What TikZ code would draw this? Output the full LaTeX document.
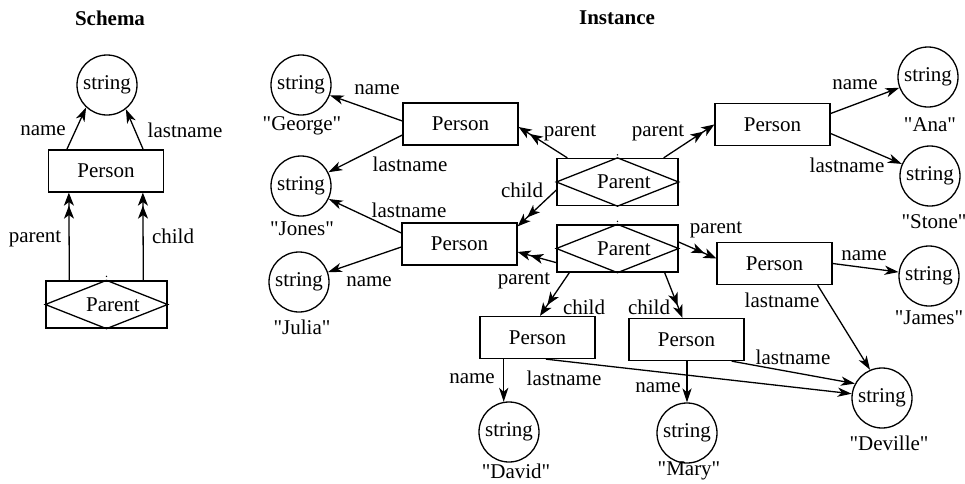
\documentclass[tikz,border=0pt]{standalone}
\usepackage{fontspec}
\setmainfont{Liberation Serif}[Ligatures=TeXOff]
\usetikzlibrary{arrows.meta,calc}
\begin{document}
\begin{tikzpicture}[x=0.5pt,y=-0.5pt,
  font=\fontsize{10.5}{12}\selectfont, line width=0.65pt,
  strn/.style={circle,draw,minimum size=30pt,inner sep=0pt},
  pbox/.style={rectangle,draw,minimum width=57.5pt,minimum height=21pt,inner sep=0pt},
  rbox/.style={rectangle,draw,minimum width=60.5pt,minimum height=23.5pt,inner sep=0pt},
  lbl/.style={inner sep=0pt},
  ttl/.style={inner sep=0pt,font=\fontsize{10.5}{12}\selectfont\bfseries},
  sarr/.style={-{Stealth[length=7pt,width=4.6pt,inset=2pt]}},
  darr/.style={-{Stealth[length=6.5pt,width=5pt,inset=1.8pt]Stealth[length=6.5pt,width=5pt,inset=1.8pt]}},
  dot/.style={circle,fill,inner sep=0pt,minimum size=0.8pt}
]
\useasboundingbox (0,0) rectangle (965,483);

% ---------------- Schema ----------------
\node[ttl] (tS) at (110,18) {Schema};
\node[strn] (strS) at (107,85) {string};
\node[pbox] (personS) at (106,171) {Person};
\node[rbox] (parS) at (106.5,304.5) {\hspace*{6.5pt}Parent};
\draw (parS.west) -- (parS.north) -- (parS.east) -- (parS.south) -- cycle;
\node[dot] (dS) at ($(parS.north)+(0,-4)$) {};

\draw[sarr] ($(personS.north west)+(19,0)$) -- (strS.227);
\draw[sarr] ($(personS.north east)+(-21,0)$) -- (strS.308);
\draw[darr] ($(parS.north west)+(24,0)$) -- ($(personS.south west)+(21,0)$);
\draw[darr] ($(parS.north west)+(98,0)$) -- ($(personS.south west)+(95,0)$);

\node[lbl] (lS1) at (43,131) {name};
\node[lbl] (lS2) at (185,130) {lastname};
\node[lbl] (lS3) at (35,239) {parent};
\node[lbl] (lS4) at (173,236) {child};

% ---------------- Instance ----------------
\node[ttl] (tI) at (617,18) {Instance};

\node[strn] (george) at (301,85) {string};
\node[strn] (jones) at (301,186) {string};
\node[strn] (julia) at (299,282) {string};
\node[strn] (ana) at (928,77) {string};
\node[strn] (stone) at (930,176) {string};
\node[strn] (james) at (929,276) {string};
\node[strn] (deville) at (882,398) {string};
\node[strn] (david) at (509,432) {string};
\node[strn] (mary) at (687,433) {string};

\node[lbl] (vGeorge) at (302,126) {"George"};
\node[lbl] (vJones) at (302,229) {"Jones"};
\node[lbl] (vJulia) at (302,327) {"Julia"};
\node[lbl] (vAna) at (930,125) {"Ana"};
\node[lbl] (vStone) at (934,222) {"Stone"};
\node[lbl] (vJames) at (929,318) {"James"};
\node[lbl] (vDeville) at (889,443) {"Deville"};
\node[lbl] (vDavid) at (516,471) {"David"};
\node[lbl] (vMary) at (689,471) {"Mary"};

\node[pbox] (p1) at (460.5,124) {Person};
\node[pbox] (p2) at (459.5,244) {Person};
\node[pbox] (pA) at (772.5,124.5) {Person};
\node[pbox] (p3) at (774.5,263.5) {Person};
\node[pbox] (p4) at (537.5,337.5) {Person};
\node[pbox] (p5) at (686.5,339.5) {Person};

\node[rbox] (parA) at (617.5,182) {\hspace*{6.5pt}Parent};
\draw (parA.west) -- (parA.north) -- (parA.east) -- (parA.south) -- cycle;
\node[dot] (dA) at ($(parA.north)+(0,-3)$) {};
\node[rbox] (parB) at (617.5,248.5) {\hspace*{6.5pt}Parent};
\draw (parB.west) -- (parB.north) -- (parB.east) -- (parB.south) -- cycle;
\node[dot] (dB) at ($(parB.north)+(0,-3)$) {};

% attribute arrows
\draw[sarr] ($(p1.west)+(0,-3)$) -- (george);
\draw[sarr] ($(p1.west)+(0,11)$) -- (jones);
\draw[sarr] ($(p2.west)+(0,-11)$) -- (jones);
\draw[sarr] ($(p2.west)+(0,3)$) -- (julia);
\draw[sarr] ($(pA.east)+(0,-11)$) -- (ana);
\draw[sarr] ($(pA.east)+(0,9)$) -- (stone);
\draw[sarr] (p3.east) -- (james);
\draw[sarr] ($(p3.south east)+(-15,0)$) -- (deville.113);
\draw[sarr] (p4.south -| david.100) -- (david.100);
\draw[sarr] ($(p4.south)+(8.5,0)$) -- (deville.172);
\draw[sarr] (p5.south -| mary.north) -- (mary.north);
\draw[sarr] ($(p5.south east)+(-13,0)$) -- (deville.152);

% relationship arrows
\draw[darr] ($(parA.north west)+(11,0)$) -- ($(p1.east)+(0,3)$);
\draw[darr] ($(parA.north east)+(-15,0)$) -- (pA.west);
\draw[darr] ($(parA.west)+(0,8)$) -- ($(p2.north east)+(0,4)$);
\draw[darr] ($(parB.south west)+(0,-10)$) -- ($(p2.east)+(0,8)$);
\draw[darr] ($(parB.south west)+(13,0)$) -- ($(p4.north)+(2.5,0)$);
\draw[darr] ($(parB.south east)+(-14,0)$) -- ($(p5.north)+(-4,0)$);
\draw[darr] ($(parB.east)+(0,-6.5)$) -- ($(p3.west)+(0,-5)$);

% edge labels
\node[lbl] (e1) at (377,90) {name};
\node[lbl] (e2) at (410,164) {lastname};
\node[lbl] (e3) at (409,210) {lastname};
\node[lbl] (e4) at (369,282) {name};
\node[lbl] (e5) at (855,85) {name};
\node[lbl] (e6) at (847,165) {lastname};
\node[lbl] (e7) at (864,256) {name};
\node[lbl] (e8) at (782,300) {lastname};
\node[lbl] (e9) at (472,379) {name};
\node[lbl] (e10) at (564,378) {lastname};
\node[lbl] (e11) at (658,388) {name};
\node[lbl] (e12) at (793,357) {lastname};
\node[lbl] (r1) at (570,133) {parent};
\node[lbl] (r2) at (658,133) {parent};
\node[lbl] (r3) at (522,190) {child};
\node[lbl] (r4) at (524,281) {parent};
\node[lbl] (r5) at (584,307) {child};
\node[lbl] (r6) at (649,307) {child};
\node[lbl] (r7) at (716,230) {parent};
\end{tikzpicture}
\end{document}
